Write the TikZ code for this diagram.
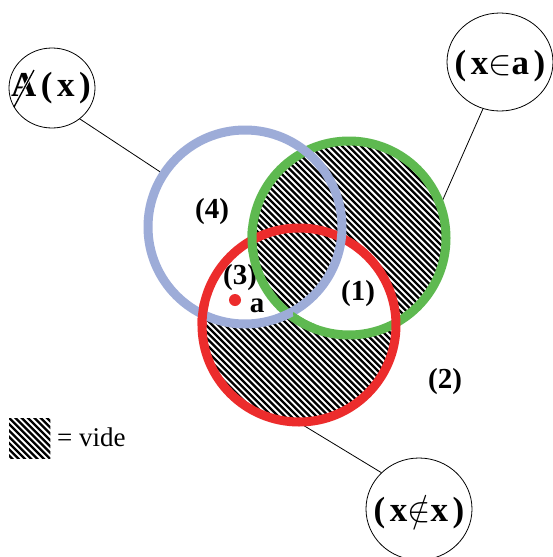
\RequirePackage{fix-cm}
\documentclass[tikz,border=0pt]{standalone}
\usepackage{fontspec}
\setmainfont{Liberation Serif}
\usetikzlibrary{shapes.geometric}
\definecolor{ringblue}{RGB}{157,172,216}
\definecolor{ringgreen}{RGB}{94,185,80}
\definecolor{ringred}{RGB}{236,44,44}
\newcommand\myhatch{\foreach \i in {-560,-553.7,...,560} \draw[hatchline] (\i,0) -- ++(557,557);}
\newcommand\gap{\hspace{4.5pt}}
\begin{document}
\begin{tikzpicture}[x=1pt,y=-1pt,
  ring/.style={line width=9pt},
  hatchline/.style={line width=2.3pt},
  bubble/.style={draw, ellipse, line width=0.8pt, inner sep=0pt},
  lbl/.style={font=\bfseries\fontsize{29}{32}\selectfont, inner sep=0pt},
  big/.style={font=\bfseries\fontsize{35}{40}\selectfont, inner sep=0pt},
  anchorcircle/.style={circle, minimum size=202pt, inner sep=0pt, outer sep=0pt},
  conn/.style={line width=0.8pt}]
\useasboundingbox (0,0) rectangle (553,557);
\fill[white] (0,0) rectangle (553,557);
\coordinate (cB) at (245,227);
\coordinate (cG) at (349,238);
\coordinate (cR) at (299,325);
% hatched area
\begin{scope}
  \clip (cG) circle (97) (cR) circle (97);
  \myhatch
\end{scope}
% region (1)
\begin{scope}
  \clip (cR) circle (97);
  \clip (cG) circle (97);
  \fill[white, even odd rule] (0,0) rectangle (553,557) (cB) circle (97);
\end{scope}
% region (3)
\begin{scope}
  \clip (cR) circle (97);
  \clip (cB) circle (97);
  \fill[white, even odd rule] (0,0) rectangle (553,557) (cG) circle (97);
\end{scope}
% legend
\node[minimum width=41pt, minimum height=40pt, inner sep=0pt, anchor=north west] (leg) at (9,418) {};
\begin{scope}
  \clip (leg.south west) rectangle (leg.north east);
  \myhatch
\end{scope}
\node[anchor=west, inner sep=0pt, font=\fontsize{27}{30}\selectfont] (vide) at (57,437) {= vide};
% anchor nodes for the rings
\node[anchorcircle] (B) at (cB) {};
\node[anchorcircle] (G) at (cG) {};
\node[anchorcircle] (R) at (cR) {};
% bubbles
\node[bubble, minimum width=86pt, minimum height=80pt] (Ax) at (52,88) {};
\node[bubble, minimum width=106pt, minimum height=98pt] (Xa) at (500,62) {};
\node[bubble, minimum width=106pt, minimum height=102pt] (Xx) at (419,509) {};
\draw[conn] (Ax.-48) -- (B.147);
\draw[conn] (Xa.-110) -- (G.22);
\draw[conn] (Xx.136) -- (R.-87);
\node[big] (tA) at (51,88) {A\gap(\gap x\gap)};
\draw[white, line width=3pt] (17,101) -- (33,72);
\draw[line width=1.3pt] (14,107) -- (34,70);
\node[big] (tXa) at (500,66) {(\gap x$\in$a\gap)};
\node[big] (tXx) at (419,512) {(\gap x$\notin$x\gap)};
% labels
\node[lbl] (l4) at (212,212) {(4)};
\node[lbl] (l3) at (240,278) {(3)};
\node[lbl] (l1) at (358,294) {(1)};
\node[lbl] (l2) at (445,382) {(2)};
\node[circle, fill=ringred, minimum size=12pt, inner sep=0pt] (dot) at (235,300) {};
\node[lbl] (la) at (257,306) {a};
% rings
\draw[ring, ringgreen] (cG) circle (97);
\draw[ring, ringred] (cR) circle (97);
\draw[ring, ringblue] (cB) circle (97);
\begin{scope}\clip (203,314) circle (13); \draw[ring, ringred] (cR) circle (97); \end{scope}
\begin{scope}\clip (306,314) circle (13); \draw[ring, ringgreen] (cG) circle (97); \end{scope}
\begin{scope}\clip (252,240) circle (13); \draw[ring, ringgreen] (cG) circle (97); \end{scope}
\end{tikzpicture}
\end{document}
